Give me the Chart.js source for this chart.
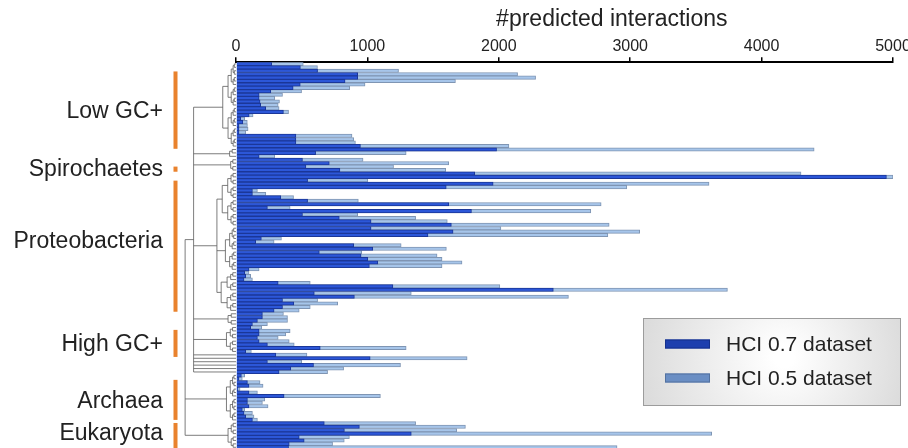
<!DOCTYPE html>
<html>
<head>
<meta charset="utf-8">
<script src="https://cdn.jsdelivr.net/npm/chart.js@4.4.1/dist/chart.umd.min.js"></script>
<style>
  html, body { margin: 0; padding: 0; background: #fff; overflow: hidden; }
  #wrap { width: 908px; height: 448px; overflow: hidden; }
</style>
</head>
<body>
<div id="wrap"><canvas id="chart" width="908" height="452"></canvas></div>
<script>
// #predicted interactions per genome (top to bottom)
const hci07 = [
  272, 490, 621, 926, 926, 830, 489, 435, 265, 176, 176, 183, 188, 226, 361, 100, 36, 52, 23, 23, 23,
  456, 456, 456, 947, 1983, 606, 176, 506, 710, 532, 791, 1817, 4950, 545, 1957, 1600, 125, 125, 341,
  545, 1619, 239, 1792, 506, 786, 1028, 1639, 1028, 1652, 1461, 193, 150, 896, 1041, 634, 952, 1003,
  1079, 1015, 99, 66, 74, 61, 321, 1194, 2415, 596, 901, 354, 440, 354, 290, 201, 201, 163, 125, 112,
  176, 176, 163, 176, 239, 641, 74, 303, 1021, 239, 590, 417, 328, 41, 23, 87, 99, 15, 99, 366, 87,
  87, 99, 48, 61, 74, 125, 672, 939, 825, 1334, 481, 519, 405, 400
];
const hci05 = [
  512, 620, 1237, 2143, 2280, 1670, 982, 865, 499, 354, 295, 331, 321, 328, 400, 130, 66, 86, 87, 92, 74,
  883, 896, 909, 2077, 4400, 1295, 295, 967, 1619, 1199, 1596, 4300, 5000, 1003, 3600, 2974, 163, 227, 438,
  931, 2779, 412, 2700, 926, 1367, 1608, 2840, 2016, 3072, 2830, 346, 290, 1257, 1601, 957, 1530, 1568,
  1720, 1568, 176, 99, 112, 125, 565, 2008, 3740, 1334, 2530, 621, 774, 565, 481, 361, 392, 392, 239, 196,
  412, 379, 321, 405, 443, 1295, 117, 540, 1759, 500, 1252, 819, 697, 66, 48, 183, 206, 31, 163, 1099, 219,
  201, 244, 66, 125, 137, 163, 1367, 1746, 1680, 3620, 863, 824, 735, 2900
];
const genomes = hci07.map((_, i) => 'genome ' + (i + 1));

const xTicks = [0, 1000, 2000, 3000, 4000, 5000];

// taxonomic groups, in row-index units
const groupNames = ['Low GC+', 'Spirochaetes', 'Proteobacteria', 'High GC+', 'Archaea', 'Eukaryota'];
const groupFrom = [2.2, 30.0, 34.1, 77.7, 92.3, 104.9];
const groupTo = [24.8, 31.5, 72.4, 85.6, 104.0, 116];
const groupLabelAt = [13.9, 30.9, 52.0, 82.1, 98.7, 108.1];

// species tree: d = depth (0 root .. 1 leaves), r = leaf range, numbers = single leaves
const tree = { d: 0.04, c: [
  { d: 0.2, c: [
    { d: 0.75, r: [0, 24] },
    { d: 0.88, r: [25, 27] },
    { d: 0.9, r: [28, 31] },
    { d: 0.64, c: [
      { d: 0.74, r: [32, 47] },
      { d: 0.8, r: [48, 60] },
      { d: 0.72, r: [61, 72] }
    ] },
    { d: 0.85, r: [73, 76] },
    { d: 0.82, r: [77, 84] },
    85, 86, 87, 88, 89, 90
  ] },
  { d: 0.82, r: [91, 104] },
  { d: 0.85, r: [105, 112] }
] };

const FONT = '"Liberation Sans", Arial, Helvetica, sans-serif';

function buildRange(a, b, d) {
  if (a === b) return a;
  const m = Math.floor((a + b) / 2);
  const next = d + (1 - d) * 0.4;
  return { d, c: [buildRange(a, m, next), buildRange(m + 1, b, next)] };
}
function expand(n) {
  if (typeof n === 'number') return n;
  if (n.r) return buildRange(n.r[0], n.r[1], n.d);
  return { d: n.d, c: n.c.map(expand) };
}
const fullTree = expand(tree);

const decorPlugin = {
  id: 'decor',
  afterDraw(chart) {
    const ctx = chart.ctx;
    const area = chart.chartArea;
    const ys = chart.scales.y;
    const x0 = 183;
    const xOf = u => x0 + u * (area.left - x0);
    const yOf = i => ys.getPixelForValue(i);

    // dendrogram
    ctx.save();
    ctx.strokeStyle = '#5c5c5c';
    ctx.lineWidth = 0.8;
    ctx.beginPath();
    const walk = n => {
      if (typeof n === 'number') return { x: area.left, y: yOf(n) };
      const kids = n.c.map(walk);
      const x = xOf(n.d);
      kids.forEach(k => { ctx.moveTo(x, k.y); ctx.lineTo(k.x, k.y); });
      ctx.moveTo(x, kids[0].y);
      ctx.lineTo(x, kids[kids.length - 1].y);
      return { x, y: (kids[0].y + kids[kids.length - 1].y) / 2 };
    };
    walk(fullTree);
    ctx.stroke();

    // group bars + names
    ctx.fillStyle = '#e9822d';
    groupNames.forEach((name, g) => {
      const top = yOf(groupFrom[g]);
      const bot = yOf(groupTo[g]);
      ctx.fillRect(173.5, top, 4, bot - top);
    });
    ctx.fillStyle = '#222';
    ctx.font = '23px ' + FONT;
    ctx.textAlign = 'right';
    ctx.textBaseline = 'middle';
    groupNames.forEach((name, g) => ctx.fillText(name, 163, yOf(groupLabelAt[g])));

    // axis title
    ctx.textAlign = 'center';
    ctx.font = '23px ' + FONT;
    ctx.fillText('#predicted interactions', area.left + (area.right - area.left) * 0.572, 20);

    // legend box
    const bx = 643, by = 318, bw = 257, bh = 87;
    const grad = ctx.createRadialGradient(bx + bw * 0.55, by + bh * 0.45, 10, bx + bw * 0.5, by + bh * 0.5, bw * 0.62);
    grad.addColorStop(0, '#ffffff');
    grad.addColorStop(1, '#d4d4d4');
    ctx.fillStyle = grad;
    ctx.fillRect(bx, by, bw, bh);
    ctx.strokeStyle = '#9c9c9c';
    ctx.lineWidth = 1;
    ctx.strokeRect(bx + 0.5, by + 0.5, bw, bh);
    const sw = [['#1d3fae', '#14308c'], ['#6a8ec4', '#52719f']];
    chart.data.datasets.forEach((ds, k) => {
      const cy = by + 26 + k * 34;
      ctx.fillStyle = sw[k][0];
      ctx.fillRect(bx + 22, cy - 4.5, 45, 9);
      ctx.strokeStyle = sw[k][1];
      ctx.strokeRect(bx + 22.5, cy - 4, 44, 8);
      ctx.fillStyle = '#222';
      ctx.font = '21px ' + FONT;
      ctx.textAlign = 'left';
      ctx.fillText(ds.label, bx + 83, cy + 1);
    });
    ctx.restore();
  }
};

new Chart(document.getElementById('chart'), {
  type: 'bar',
  data: {
    labels: genomes,
    datasets: [
      {
        label: 'HCI 0.7 dataset',
        data: hci07,
        backgroundColor: '#2c57d8',
        borderColor: '#1b3799',
        borderWidth: 1,
        order: 0
      },
      {
        label: 'HCI 0.5 dataset',
        data: hci05,
        backgroundColor: '#a6c5ea',
        borderColor: '#7f95b3',
        borderWidth: 1,
        order: 1
      }
    ]
  },
  options: {
    indexAxis: 'y',
    responsive: false,
    animation: false,
    devicePixelRatio: 1,
    layout: { autoPadding: false, padding: { top: 36, left: 236, right: 15, bottom: 3 } },
    datasets: { bar: { grouped: false, barPercentage: 1, categoryPercentage: 1 } },
    plugins: { legend: { display: false }, tooltip: { enabled: false } },
    scales: {
      x: {
        position: 'top',
        min: 0,
        max: 5000,
        afterBuildTicks: s => { s.ticks = xTicks.map(v => ({ value: v })); },
        afterFit: s => { s.paddingLeft = 0; s.paddingRight = 0; },
        ticks: {
          color: '#222',
          font: { size: 16, family: FONT },
          padding: 1,
          maxRotation: 0,
          callback: v => String(v)
        },
        grid: { drawOnChartArea: false, drawTicks: true, tickLength: 5, color: '#000', lineWidth: 1.5 },
        border: { display: true, color: '#000', width: 2 }
      },
      y: { display: false, offset: true }
    }
  },
  plugins: [decorPlugin]
});
</script>
</body>
</html>
